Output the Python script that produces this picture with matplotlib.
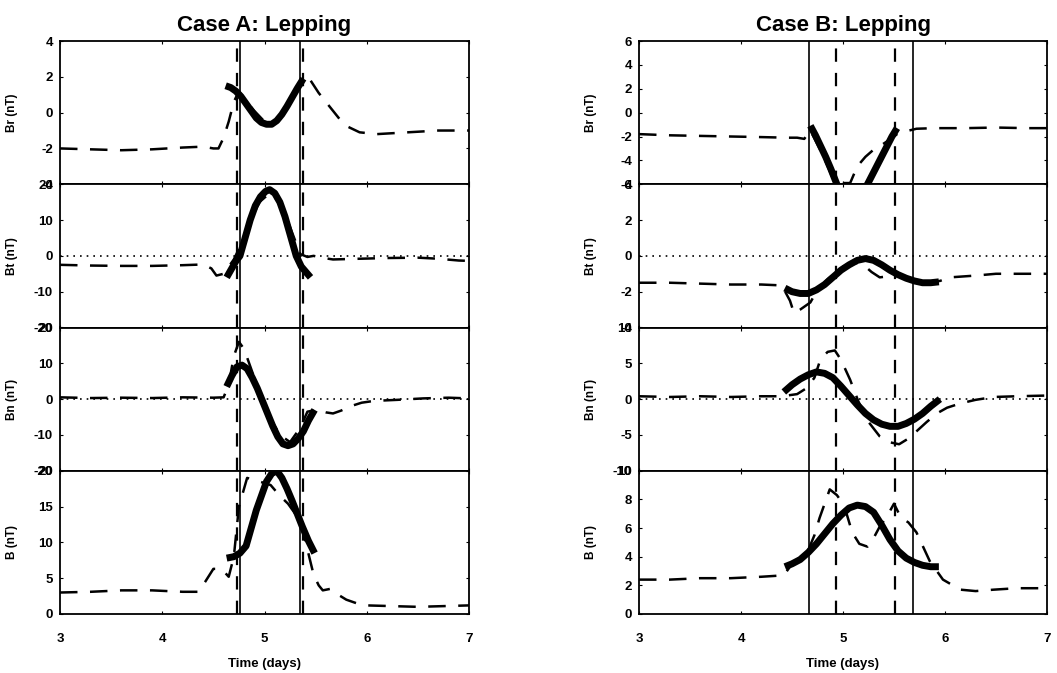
"""
Case A / Case B Lepping flux-rope fits: Br, Bt, Bn, B against time.
"""
import numpy as np
import matplotlib
matplotlib.use("Agg")
import matplotlib.pyplot as plt

plt.rcParams.update({
    "font.family": ["Liberation Sans", "DejaVu Sans"],
    "font.weight": "bold",
    "axes.linewidth": 1.3,
    "axes.edgecolor": "black",
    "axes.unicode_minus": False,
})

# ── Case A data ───────────────────────────────────────────────────────────────
a_br_obs_t = [3.0, 3.3, 3.6, 3.9, 4.2, 4.4, 4.5, 4.55, 4.6, 4.65, 4.7, 4.75, 4.8, 4.9, 5.0,
              5.05, 5.1, 5.2, 5.3, 5.38, 5.45, 5.53, 5.6, 5.67, 5.74, 5.82, 5.93, 6.1, 6.4, 6.7, 7.0]
a_br_obs = [-2.0, -2.05, -2.1, -2.05, -1.95, -1.9, -2.0, -2.0, -1.4, -0.5, 0.6, 1.2, 0.8, 0.1, -0.5,
            -0.6, -0.5, 0.2, 1.2, 1.9, 1.8, 1.1, 0.6, 0.1, -0.4, -0.8, -1.1, -1.2, -1.1, -1.0, -1.0]
a_br_fit_t = [4.62, 4.67, 4.72, 4.77, 4.82, 4.87, 4.92, 4.97, 5.02, 5.07, 5.12, 5.17, 5.22, 5.27, 5.32, 5.38]
a_br_fit = [1.5, 1.4, 1.2, 0.9, 0.5, 0.1, -0.3, -0.55, -0.65, -0.65, -0.45, -0.1, 0.35, 0.85, 1.35, 1.9]

a_bt_obs_t = [3.0, 3.3, 3.6, 3.9, 4.2, 4.4, 4.48, 4.53, 4.6, 4.7, 4.75, 4.85, 4.95, 5.05, 5.15,
              5.25, 5.35, 5.42, 5.48, 5.58, 5.67, 5.8, 5.93, 6.2, 6.5, 6.7, 6.9, 7.0]
a_bt_obs = [-2.5, -2.7, -2.8, -2.8, -2.6, -2.4, -3.5, -5.5, -5.0, -1.0, 2.0, 9.0, 15.0, 17.5, 15.0,
            8.0, 0.5, -0.3, 0.0, -0.6, -1.0, -0.9, -0.8, -0.6, -0.5, -0.8, -1.3, -1.4]
a_bt_fit_t = [4.63, 4.68, 4.72, 4.76, 4.81, 4.86, 4.91, 4.96, 5.01, 5.05, 5.1, 5.15, 5.2, 5.25, 5.31, 5.36, 5.45]
a_bt_fit = [-6.0, -3.5, -1.5, 0.0, 5.0, 10.0, 14.0, 16.5, 18.0, 18.5, 17.5, 15.0, 11.0, 6.0, 0.0, -3.0, -6.0]

a_bn_obs_t = [3.0, 3.3, 3.6, 3.9, 4.2, 4.5, 4.6, 4.65, 4.7, 4.75, 4.8, 4.85, 4.95, 5.05, 5.15,
              5.25, 5.35, 5.42, 5.51, 5.6, 5.67, 5.75, 5.84, 5.95, 6.07, 6.3, 6.55, 6.8, 7.0]
a_bn_obs = [0.5, 0.3, 0.4, 0.3, 0.5, 0.4, 0.5, 4.0, 12.0, 16.0, 14.0, 10.0, 2.0, -5.0, -10.0,
            -12.0, -8.0, -3.5, -3.0, -3.7, -4.0, -3.2, -2.0, -1.0, -0.5, -0.2, 0.2, 0.4, 0.2]
a_bn_fit_t = [4.63, 4.68, 4.73, 4.78, 4.83, 4.88, 4.93, 4.98, 5.03, 5.08, 5.13, 5.18, 5.23, 5.28,
              5.33, 5.38, 5.43, 5.49]
a_bn_fit = [3.5, 6.5, 9.0, 9.5, 8.5, 6.0, 3.0, -0.5, -4.0, -7.5, -10.5, -12.5, -13.0, -12.5,
            -11.0, -9.0, -6.0, -3.0]

a_b_obs_t = [3.0, 3.3, 3.6, 3.9, 4.2, 4.35, 4.42, 4.5, 4.58, 4.65, 4.7, 4.75, 4.83, 4.95, 5.06,
             5.15, 5.23, 5.35, 5.42, 5.48, 5.53, 5.57, 5.64, 5.72, 5.8, 5.9, 6.0, 6.25, 6.5, 6.75, 7.0]
a_b_obs = [3.0, 3.1, 3.3, 3.3, 3.1, 3.1, 4.5, 6.3, 6.3, 5.2, 8.0, 15.0, 19.0, 18.5, 18.0,
           16.5, 15.4, 13.0, 9.0, 5.5, 4.0, 3.3, 3.5, 2.7, 2.0, 1.5, 1.2, 1.1, 1.0, 1.1, 1.2]
a_b_fit_t = [4.63, 4.7, 4.76, 4.82, 4.87, 4.92, 4.97, 5.02, 5.07, 5.12, 5.17, 5.22, 5.27, 5.32,
             5.37, 5.43, 5.49]
a_b_fit = [7.8, 8.0, 8.5, 9.5, 12.0, 14.5, 16.5, 18.5, 19.6, 20.0, 19.0, 17.5, 15.8, 14.0,
           12.2, 10.2, 8.5]

a_solid_bounds = [4.76, 5.35]
a_dashed_bounds = [4.73, 5.38]

# ── Case B data ───────────────────────────────────────────────────────────────
b_br_obs_t = [3.0, 3.3, 3.6, 3.9, 4.2, 4.45, 4.55, 4.62, 4.68, 4.8, 4.9, 4.97, 5.07, 5.14, 5.22,
              5.3, 5.38, 5.46, 5.53, 5.6, 5.72, 5.9, 6.2, 6.5, 6.8, 7.0]
b_br_obs = [-1.8, -1.9, -1.95, -2.0, -2.05, -2.1, -2.1, -2.2, -1.5, -3.5, -5.5, -5.9, -5.9, -4.5, -3.7,
            -3.1, -2.7, -2.25, -1.8, -1.6, -1.35, -1.3, -1.3, -1.25, -1.3, -1.3]
b_br_fit_t = [4.68, 4.73, 4.78, 4.83, 4.88, 4.94, 5.0, 5.08, 5.16, 5.24, 5.3, 5.36, 5.42, 5.48, 5.53]
b_br_fit = [-1.1, -1.9, -2.8, -3.7, -4.7, -6.0, -7.0, -7.6, -7.0, -6.0, -5.0, -4.0, -3.0, -2.0, -1.3]

b_bt_obs_t = [3.0, 3.3, 3.6, 3.9, 4.2, 4.4, 4.48, 4.52, 4.58, 4.68, 4.75, 4.85, 5.0, 5.1, 5.2,
              5.28, 5.36, 5.5, 5.6, 5.7, 5.8, 5.95, 6.05, 6.3, 6.5, 6.7, 6.9, 7.0]
b_bt_obs = [-1.5, -1.5, -1.55, -1.6, -1.6, -1.65, -2.5, -3.2, -3.0, -2.6, -1.9, -1.3, -0.6, -0.35, -0.5,
            -0.9, -1.2, -1.1, -1.2, -1.3, -1.5, -1.4, -1.2, -1.1, -1.0, -1.0, -1.0, -1.0]
b_bt_fit_t = [4.43, 4.5, 4.58, 4.66, 4.74, 4.82, 4.9, 4.98, 5.06, 5.14, 5.22, 5.3, 5.38, 5.46,
              5.54, 5.62, 5.7, 5.78, 5.86, 5.94]
b_bt_fit = [-1.8, -2.0, -2.1, -2.1, -1.9, -1.6, -1.2, -0.8, -0.5, -0.25, -0.15, -0.25, -0.5, -0.8,
            -1.05, -1.25, -1.4, -1.5, -1.5, -1.45]

b_bn_obs_t = [3.0, 3.3, 3.6, 3.9, 4.2, 4.4, 4.55, 4.65, 4.72, 4.78, 4.85, 4.92, 4.98, 5.07, 5.15,
              5.24, 5.36, 5.45, 5.55, 5.63, 5.72, 5.82, 5.92, 6.02, 6.15, 6.3, 6.48, 6.7, 7.0]
b_bn_obs = [0.4, 0.3, 0.4, 0.3, 0.4, 0.4, 0.7, 1.6, 3.0, 5.6, 6.6, 6.8, 5.5, 2.7, -0.3,
            -3.0, -5.2, -6.0, -6.3, -5.6, -4.5, -3.2, -2.0, -1.2, -0.6, -0.1, 0.3, 0.4, 0.5]
b_bn_fit_t = [4.42, 4.5, 4.58, 4.66, 4.74, 4.82, 4.9, 4.98, 5.06, 5.14, 5.22, 5.3, 5.38, 5.46,
              5.54, 5.62, 5.7, 5.78, 5.86, 5.95]
b_bn_fit = [1.0, 2.0, 2.8, 3.4, 3.8, 3.6, 3.0, 1.8, 0.5, -0.8, -2.0, -2.9, -3.5, -3.8,
            -3.8, -3.4, -2.8, -2.0, -1.0, 0.0]

b_b_obs_t = [3.0, 3.3, 3.6, 3.9, 4.2, 4.42, 4.48, 4.55, 4.65, 4.72, 4.77, 4.87, 4.94, 5.01, 5.09,
             5.16, 5.24, 5.3, 5.36, 5.43, 5.5, 5.57, 5.64, 5.72, 5.85, 5.98, 6.15, 6.3, 6.48, 6.7, 7.0]
b_b_obs = [2.4, 2.4, 2.5, 2.5, 2.6, 2.7, 3.3, 3.8, 4.3, 5.5, 6.7, 8.7, 8.3, 7.6, 5.7,
           4.9, 4.7, 5.3, 6.1, 6.8, 7.7, 6.7, 6.4, 5.7, 3.7, 2.4, 1.7, 1.6, 1.7, 1.8, 1.8]
b_b_fit_t = [4.43, 4.5, 4.58, 4.66, 4.74, 4.82, 4.9, 4.98, 5.06, 5.14, 5.22, 5.3, 5.38, 5.46,
             5.54, 5.62, 5.7, 5.78, 5.86, 5.94]
b_b_fit = [3.3, 3.5, 3.8, 4.3, 4.9, 5.6, 6.3, 6.9, 7.4, 7.6, 7.5, 7.1, 6.2, 5.2,
           4.4, 3.9, 3.6, 3.4, 3.3, 3.3]

b_solid_bounds = [4.67, 5.69]
b_dashed_bounds = [4.93, 5.51]

# ── Panel settings ────────────────────────────────────────────────────────────
labels = ["Br (nT)", "Bt (nT)", "Bn (nT)", "B (nT)"]
a_ylims = [(-4, 4), (-20, 20), (-20, 20), (0, 20)]
a_yticks = [[-4, -2, 0, 2, 4], [-20, -10, 0, 10, 20], [-20, -10, 0, 10, 20], [0, 5, 10, 15, 20]]
b_ylims = [(-6, 6), (-4, 4), (-10, 10), (0, 10)]
b_yticks = [[-6, -4, -2, 0, 2, 4, 6], [-4, -2, 0, 2, 4], [-10, -5, 0, 5, 10], [0, 2, 4, 6, 8, 10]]
xticks = [3, 4, 5, 6, 7]

W, H = 1057, 673
fig = plt.figure(figsize=(W / 100, H / 100), dpi=100, facecolor="white")

top_px, bot_px = 41, 614
panel_h = (bot_px - top_px) / 4


def draw_case(left_px, right_px, title, series, ylims, yticks, solid_b, dashed_b):
    axes = []
    for i in range(4):
        y0 = top_px + panel_h * (i + 1)
        ax = fig.add_axes([left_px / W, 1 - y0 / H, (right_px - left_px) / W, panel_h / H])
        obs_t, obs, fit_t, fit = series[i]
        ax.plot(obs_t, obs, color="black", lw=1.8, dashes=(7, 5))
        ax.plot(fit_t, fit, color="black", lw=5.0, solid_capstyle="butt")
        if i in (1, 2):
            ax.axhline(0, color="black", lw=1.2, ls=(0, (1, 3)))
        for xv in solid_b:
            ax.axvline(xv, color="black", lw=1.2)
        for xv in dashed_b:
            ax.axvline(xv, color="black", lw=1.6, dashes=(6, 5))
        ax.set_xlim(3, 7)
        ax.set_ylim(*ylims[i])
        ax.set_yticks(yticks[i])
        ax.set_xticks(xticks)
        ax.tick_params(direction="in", length=2.5, width=0.8, top=True, right=True,
                       labelsize=9.5, pad=5)
        ax.set_ylabel(labels[i], fontsize=8.5, fontweight="bold")
        ax.yaxis.set_label_coords(-0.103, 0.5)
        if i < 3:
            ax.tick_params(labelbottom=False)
        else:
            ax.tick_params(axis="x", pad=14)
            ax.set_xlabel("Time (days)", fontsize=9.5, fontweight="bold", labelpad=9)
        axes.append(ax)
    axes[0].set_title(title, fontsize=16, fontweight="bold", pad=7)
    return axes


case_a = [(a_br_obs_t, a_br_obs, a_br_fit_t, a_br_fit),
          (a_bt_obs_t, a_bt_obs, a_bt_fit_t, a_bt_fit),
          (a_bn_obs_t, a_bn_obs, a_bn_fit_t, a_bn_fit),
          (a_b_obs_t, a_b_obs, a_b_fit_t, a_b_fit)]
case_b = [(b_br_obs_t, b_br_obs, b_br_fit_t, b_br_fit),
          (b_bt_obs_t, b_bt_obs, b_bt_fit_t, b_bt_fit),
          (b_bn_obs_t, b_bn_obs, b_bn_fit_t, b_bn_fit),
          (b_b_obs_t, b_b_obs, b_b_fit_t, b_b_fit)]

draw_case(60, 469, "Case A: Lepping", case_a, a_ylims, a_yticks, a_solid_bounds, a_dashed_bounds)
draw_case(639, 1047, "Case B: Lepping", case_b, b_ylims, b_yticks, b_solid_bounds, b_dashed_bounds)

fig.savefig("out.png", dpi=100, facecolor="white")
print("Saved out.png")
